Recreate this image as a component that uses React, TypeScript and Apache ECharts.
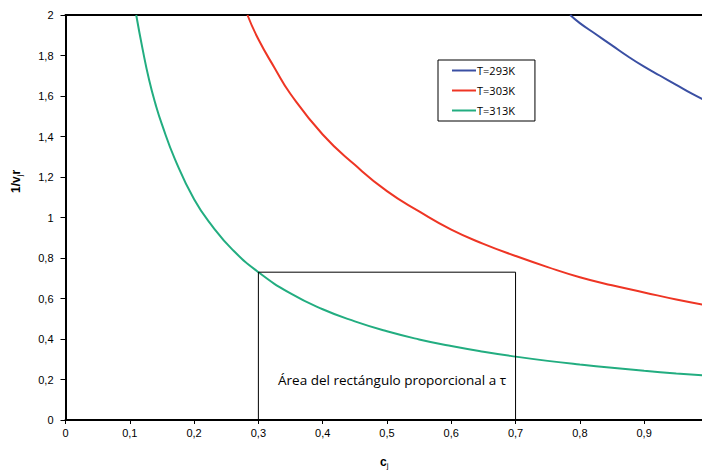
import React, { useEffect, useRef } from "react";
import * as echarts from "echarts";

const xTicks = [0, 0.1, 0.2, 0.3, 0.4, 0.5, 0.6, 0.7, 0.8, 0.9];
const yTicks = [0, 0.2, 0.4, 0.6, 0.8, 1, 1.2, 1.4, 1.6, 1.8, 2];

const seriesNames = ["T=293K", "T=303K", "T=313K"];
const seriesColors = ["#3a4fa3", "#ee3524", "#22ad80"];

const t293: [number, number][] = [
  [0.785, 2.0], [0.8, 1.96], [0.825, 1.905], [0.85, 1.85], [0.875, 1.795], [0.9, 1.745],
  [0.925, 1.7], [0.95, 1.655], [0.975, 1.61], [1.0, 1.57],
];
const t303: [number, number][] = [
  [0.283, 2.0], [0.3, 1.88], [0.325, 1.74], [0.35, 1.61], [0.4, 1.41], [0.45, 1.26],
  [0.5, 1.13], [0.55, 1.03], [0.6, 0.94], [0.65, 0.87], [0.7, 0.81], [0.75, 0.755],
  [0.8, 0.705], [0.85, 0.665], [0.9, 0.63], [0.95, 0.595], [1.0, 0.565],
];
const t313: [number, number][] = [
  [0.11, 2.0], [0.12, 1.83], [0.13, 1.68], [0.14, 1.56], [0.15, 1.46], [0.17, 1.29],
  [0.2, 1.09], [0.23, 0.95], [0.26, 0.84], [0.3, 0.73], [0.35, 0.625], [0.4, 0.547],
  [0.45, 0.487], [0.5, 0.438], [0.55, 0.398], [0.6, 0.365], [0.65, 0.337], [0.7, 0.313],
  [0.75, 0.292], [0.8, 0.274], [0.85, 0.258], [0.9, 0.243], [0.95, 0.23], [1.0, 0.219],
];
const rectangle: [number, number][] = [
  [0.3, 0], [0.3, 0.73], [0.7, 0.73], [0.7, 0],
];
const rectLabel = "Área del rectángulo proporcional a τ";

const fmt = (v: number) => String(Math.round(v * 10) / 10).replace(".", ",");

export default function App() {
  const ref = useRef<HTMLDivElement>(null);
  useEffect(() => {
    if (!ref.current) return;
    const chart = echarts.init(ref.current, null, { renderer: "svg" });
    const curves = [t293, t303, t313];
    chart.setOption({
      animation: false,
      backgroundColor: "#ffffff",
      grid: {
        left: 65.5,
        top: 15,
        bottom: 53,
        right: 0,
        show: false,
      },
      legend: {
        data: seriesNames,
        orient: "vertical",
        left: 438,
        top: 60,
        backgroundColor: "#fff",
        borderColor: "#000",
        borderWidth: 1,
        padding: [5, 20, 5, 14],
        itemGap: 9,
        itemWidth: 24,
        itemHeight: 2,
        icon: "rect",
        textStyle: { fontFamily: "Open Sans", fontSize: 11, color: "#000", padding: [0, 0, 0, -4] },
      },
      xAxis: [
        {
          type: "value",
          min: 0,
          max: 0.99,
          interval: 0.1,
          splitLine: { show: false },
          axisLine: { onZero: false, lineStyle: { color: "#000", width: 2 } },
          axisTick: { show: true, length: 4, lineStyle: { color: "#000" } },
          axisLabel: {
            formatter: (v: number) => (xTicks.some((t) => Math.abs(t - v) < 1e-6) ? fmt(v) : ""),
            fontFamily: "Liberation Sans",
            fontSize: 11,
            color: "#000",
            margin: 7,
            showMaxLabel: false,
          },
        },
        {
          type: "value",
          position: "top",
          min: 0,
          max: 0.99,
          splitLine: { show: false },
          axisLine: { onZero: false, lineStyle: { color: "#000", width: 2 } },
          axisTick: { show: false },
          axisLabel: { show: false },
        },
      ],
      yAxis: {
        type: "value",
        min: 0,
        max: 2,
        interval: 0.2,
        splitLine: { show: false },
        axisLine: { onZero: false, lineStyle: { color: "#000", width: 2 } },
        axisTick: { show: true, length: 5, lineStyle: { color: "#000" } },
        axisLabel: {
          formatter: (v: number) => fmt(v),
          fontFamily: "Liberation Sans",
          fontSize: 11,
          color: "#000",
          margin: 12,
        },
      },
      graphic: [
        {
          type: "text",
          left: 278,
          top: 373,
          style: {
            text: rectLabel,
            font: "13.5px 'Open Sans'",
            fill: "#000",
          },
        },
        {
          type: "text",
          x: 380,
          y: 455,
          style: {
            text: "{a|c}{b|j}",
            rich: {
              a: { font: "bold 12px 'Liberation Sans'", fill: "#000" },
              b: { font: "8px 'Liberation Sans'", fill: "#000", padding: [6, 0, 0, 0] },
            },
          },
        },
        {
          type: "text",
          x: 9,
          y: 193,
          rotation: Math.PI / 2,
          style: {
            text: "{a|1/v}{b|j}{a|r}",
            rich: {
              a: { font: "bold 12px 'Liberation Sans'", fill: "#000" },
              b: { font: "8px 'Liberation Sans'", fill: "#000", padding: [6, 0, 0, 0] },
            },
          },
        },
      ],
      series: [
        ...curves.map((d, i) => ({
          name: seriesNames[i],
          type: "line",
          data: d,
          smooth: 0.5,
          showSymbol: false,
          symbol: "none",
          clip: true,
          color: seriesColors[i],
          lineStyle: { color: seriesColors[i], width: 2 },
        })),
        {
          name: "rect",
          type: "line",
          data: rectangle,
          showSymbol: false,
          symbol: "none",
          color: "#000",
          lineStyle: { color: "#000", width: 1 },
        },
      ],
    });
    return () => chart.dispose();
  }, []);
  return <div ref={ref} style={{ width: 702, height: 473, position: "absolute", left: 0, top: 0 }} />;
}
